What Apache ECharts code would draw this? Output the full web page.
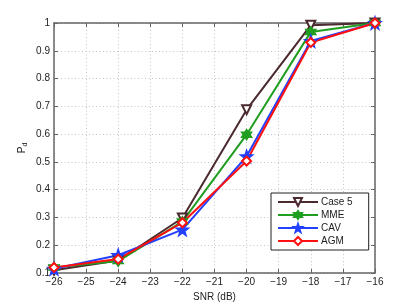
<!DOCTYPE html>
<html><head><meta charset="utf-8">
<script src="https://cdn.jsdelivr.net/npm/echarts@6/dist/echarts.min.js"></script>
<style>html,body{margin:0;padding:0;background:#fff}#c{width:415px;height:307px}</style>
</head><body><div id="c"></div>
<script>
const snr = [-26, -24, -22, -20, -18, -16];
const case5 = [0.11, 0.145, 0.298, 0.688, 0.992, 1.0];
const mme = [0.12, 0.143, 0.285, 0.598, 0.968, 1.0];
const cav = [0.115, 0.164, 0.256, 0.52, 0.935, 1.0];
const agm = [0.12, 0.15, 0.281, 0.503, 0.93, 1.0];
const xTicks = [-26, -25, -24, -23, -22, -21, -20, -19, -18, -17, -16];
const yTicks = [0.1, 0.2, 0.3, 0.4, 0.5, 0.6, 0.7, 0.8, 0.9, 1];

const FONT = 'Liberation Sans, Arial, sans-serif';
const hexagram = 'path://M0,-10 L2.9,-5 L8.66,-5 L5.8,0 L8.66,5 L2.9,5 L0,10 L-2.9,5 L-8.66,5 L-5.8,0 L-8.66,-5 L-2.9,-5 Z';
const star5 = 'path://M0,-10 L2.35,-3.24 L9.51,-3.09 L3.8,1.24 L5.88,8.09 L0,4 L-5.88,8.09 L-3.8,1.24 L-9.51,-3.09 L-2.35,-3.24 Z';

function pairs(ys){ return snr.map((x,i)=>[x, ys[i]]); }
function mk(name, ys, color, symbol, size, extra){
  return Object.assign({
    name, type:'line', data: pairs(ys), symbol, symbolSize: size,
    lineStyle:{color, width:2}, itemStyle:{color, borderColor:color, borderWidth:1.5},
    emphasis:{disabled:true}, animation:false, z: 3
  }, extra||{});
}
const axisLineStyle = {color:'#666', width:1.5};
const chart = echarts.init(document.getElementById('c'), null, {renderer:'canvas'});
chart.setOption({
  backgroundColor:'#fff',
  animation:false,
  grid:{left:54, right:40, top:23, bottom:34, containLabel:false},
  xAxis:[{
    type:'value', min:-26, max:-16, interval:1, position:'bottom',
    name:'SNR (dB)', nameLocation:'middle', nameGap:17,
    nameTextStyle:{fontFamily:FONT, fontSize:10, color:'#222'},
    axisLine:{show:true, onZero:false, lineStyle:axisLineStyle},
    axisTick:{show:true, inside:true, length:4, lineStyle:{color:'#666'}},
    axisLabel:{fontFamily:FONT, fontSize:10, color:'#222', margin:4,
      formatter:v=>String(v).replace('-', '\u2212')},
    splitLine:{show:true, lineStyle:{color:'#c4c4c4', type:[1,2.5], width:1}}
  },{
    type:'value', min:-26, max:-16, interval:1, position:'top',
    axisLine:{show:true, onZero:false, lineStyle:axisLineStyle},
    axisTick:{show:true, inside:true, length:4, lineStyle:{color:'#666'}},
    axisLabel:{show:false}, splitLine:{show:false}
  }],
  yAxis:[{
    type:'value', min:0.1, max:1, interval:0.1, position:'left',
    name:'{p|P}{s|d}', nameLocation:'middle', nameGap:25, nameRotate:90,
    nameMoveOverlap:false,
    nameTextStyle:{fontFamily:FONT, fontSize:10, color:'#222',
      rich:{p:{fontFamily:FONT, fontSize:10, color:'#222'}, s:{fontFamily:FONT, fontSize:7, color:'#222', padding:[6,0,0,0]}}},
    axisLine:{show:true, onZero:false, lineStyle:axisLineStyle},
    axisTick:{show:true, inside:true, length:4, lineStyle:{color:'#666'}},
    axisLabel:{fontFamily:FONT, fontSize:10, color:'#222', margin:4,
      formatter:v=>String(Math.round(v*10)/10)},
    splitLine:{show:true, lineStyle:{color:'#c4c4c4', type:[1,2.5], width:1}}
  },{
    type:'value', min:0.1, max:1, interval:0.1, position:'right',
    axisLine:{show:true, onZero:false, lineStyle:axisLineStyle},
    axisTick:{show:true, inside:true, length:4, lineStyle:{color:'#666'}},
    axisLabel:{show:false}, splitLine:{show:false}
  }],
  legend:{
    orient:'vertical', left:271, top:193, width:95,
    backgroundColor:'#fff', borderColor:'#222', borderWidth:1,
    padding:[4,16,4,6], itemGap:3, itemWidth:40, itemHeight:10,
    textStyle:{fontFamily:FONT, fontSize:10, color:'#222', padding:[0,0,0,-2]},
    data:['Case 5','MME','CAV','AGM']
  },
  series:[
    mk('Case 5', case5, '#4a2a2e', 'emptyTriangle', 9, {symbolRotate:180}),
    mk('MME', mme, '#1f9e1f', hexagram, 10),
    mk('CAV', cav, '#2440ff', star5, 12),
    mk('AGM', agm, '#ff1010', 'emptyDiamond', 9)
  ]
});
</script></body></html>
